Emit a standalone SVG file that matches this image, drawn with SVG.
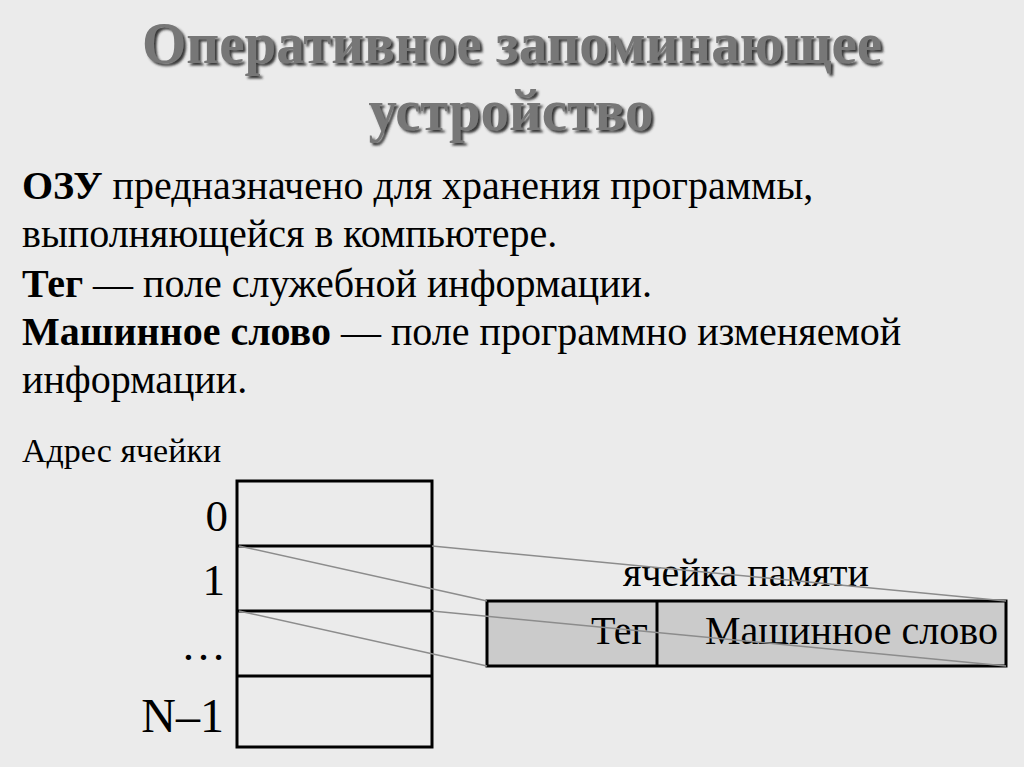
<svg xmlns="http://www.w3.org/2000/svg" width="1024" height="767" viewBox="0 0 1024 767">
<defs>
<filter id="sh" x="-5%" y="-20%" width="110%" height="140%">
<feDropShadow dx="2.5" dy="2.5" stdDeviation="0.8" flood-color="#202020" flood-opacity="0.9"/>
</filter>
<style>
.title{font-family:"Liberation Serif",serif;font-weight:bold;font-size:60px;fill:#777777;text-anchor:middle}
.body{font-family:"Liberation Serif",serif;font-size:40px;fill:#000}
.b{font-weight:bold}
.lbl{font-family:"Liberation Serif",serif;font-size:45px;fill:#000;text-anchor:end}
.cell{font-family:"Liberation Serif",serif;font-size:40px;fill:#000}
.grid{fill:none;stroke:#000;stroke-width:3}
.conn{stroke:#8c8c8c;stroke-width:1.5;fill:none}
</style>
</defs>
<rect width="1024" height="767" fill="#ebebeb"/>
<g id="title" filter="url(#sh)">
<text class="title" x="512" y="63" textLength="740" lengthAdjust="spacingAndGlyphs">Оперативное запоминающее</text>
<text class="title" x="511" y="130" textLength="285" lengthAdjust="spacingAndGlyphs">устройство</text>
</g>
<g id="description">
<text class="body" x="22" y="199"><tspan class="b">ОЗУ</tspan> предназначено для хранения программы,</text>
<text class="body" x="22" y="247">выполняющейся в компьютере.</text>
<text class="body" x="22" y="297"><tspan class="b">Тег</tspan> — поле служебной информации.</text>
<text class="body" x="22" y="345"><tspan class="b">Машинное слово</tspan> — поле программно изменяемой</text>
<text class="body" x="22" y="393">информации.</text>
</g>
<g id="address-label">
<text class="body" x="22" y="462" style="font-size:34px">Адрес ячейки</text>
</g>
<g id="memory-table">
<rect class="grid" x="237" y="481" width="195" height="266"/>
<line class="grid" x1="237" y1="546" x2="432" y2="546"/>
<line class="grid" x1="237" y1="611" x2="432" y2="611"/>
<line class="grid" x1="237" y1="676" x2="432" y2="676"/>
<text class="lbl" x="228" y="531">0</text>
<text class="lbl" x="225" y="595">1</text>
<text class="lbl" x="226" y="660">…</text>
<text class="lbl" x="224" y="732" style="font-size:48px">N–1</text>
</g>
<g id="memory-cell">
<text class="cell" x="746" y="586" text-anchor="middle">ячейка памяти</text>
<rect x="487" y="601" width="519" height="65" fill="#cbcbcb" stroke="#000" stroke-width="3"/>
<line x1="657" y1="601" x2="657" y2="666" stroke="#000" stroke-width="3"/>
<text class="cell" x="648" y="644" text-anchor="end">Тег</text>
<text class="cell" x="705" y="644">Машинное слово</text>
</g>
<g id="connectors">
<line class="conn" x1="239" y1="546" x2="487" y2="601"/>
<line class="conn" x1="239" y1="611" x2="487" y2="666"/>
<line class="conn" x1="432" y1="546" x2="1006" y2="601"/>
<line class="conn" x1="432" y1="611" x2="1006" y2="666"/>
</g>
</svg>
